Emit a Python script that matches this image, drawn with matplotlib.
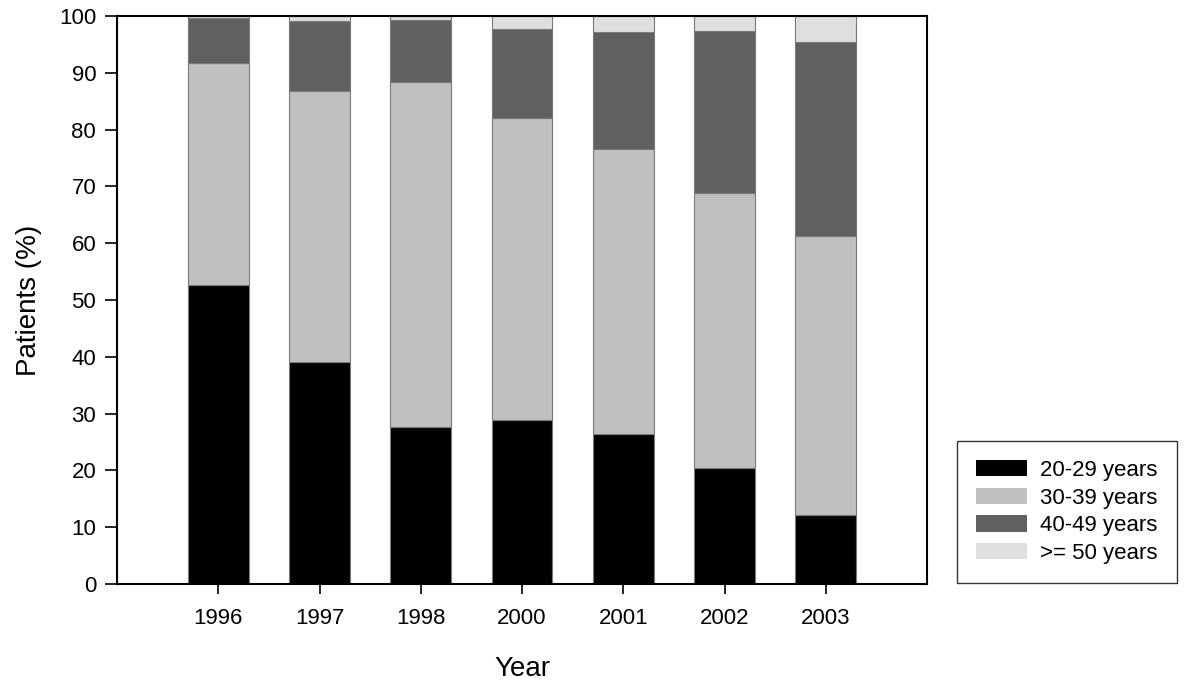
import numpy as np
import matplotlib
matplotlib.use("Agg")
import matplotlib.pyplot as plt

plt.rcParams['font.family'] = ['Liberation Sans', 'DejaVu Sans']

# Data (percent of patients per age group)
years = ["1996", "1997", "1998", "2000", "2001", "2002", "2003"]
age_20_29 = [52.7, 39.1, 27.7, 28.8, 26.5, 20.5, 12.2]
age_30_39 = [39.0, 47.7, 60.7, 53.2, 50.1, 48.4, 49.1]
age_40_49 = [7.9, 12.3, 10.9, 15.8, 20.6, 28.5, 34.1]
age_50_up = [0.4, 0.9, 0.7, 2.2, 2.8, 2.6, 4.6]

labels = ["20-29 years", "30-39 years", "40-49 years", ">= 50 years"]
colors = ["#000000", "#c0c0c0", "#606060", "#dfdfdf"]

fig = plt.figure(figsize=(12, 6.85), dpi=100)
ax = fig.add_axes([0.0975, 0.1474, 0.675, 0.8292])

x = np.arange(len(years))
bottom = np.zeros(len(years))
for vals, lab, col in zip([age_20_29, age_30_39, age_40_49, age_50_up], labels, colors):
    ax.bar(x, vals, width=0.6, bottom=bottom, color=col, edgecolor="#7a7a7a",
           linewidth=0.8, label=lab)
    bottom += np.array(vals)

ax.set_xlim(-1, len(years))
ax.set_ylim(0, 100)
ax.set_yticks(np.arange(0, 101, 10))
ax.set_xticks(x)
ax.set_xticklabels(years)
ax.tick_params(axis='both', labelsize=16, direction='out', width=1.2, color='black')
ax.tick_params(axis='y', length=9, pad=6)
ax.tick_params(axis='x', length=7, pad=10)
for s in ax.spines.values():
    s.set_linewidth(1.5)

ax.set_xlabel("Year", fontsize=20, labelpad=20)
ax.set_ylabel("Patients (%)", fontsize=20, labelpad=12)

leg = fig.legend(loc='lower left', bbox_to_anchor=(0.7975, 0.149), borderaxespad=0,
                 fontsize=16, frameon=True, fancybox=False, edgecolor='black',
                 handlelength=2.3, handleheight=0.75, handletextpad=0.6,
                 labelspacing=0.3, borderpad=0.85)
leg.get_frame().set_linewidth(1.0)
for h in leg.legend_handles:
    h.set_edgecolor('none')

fig.savefig("out.png", dpi=100)
